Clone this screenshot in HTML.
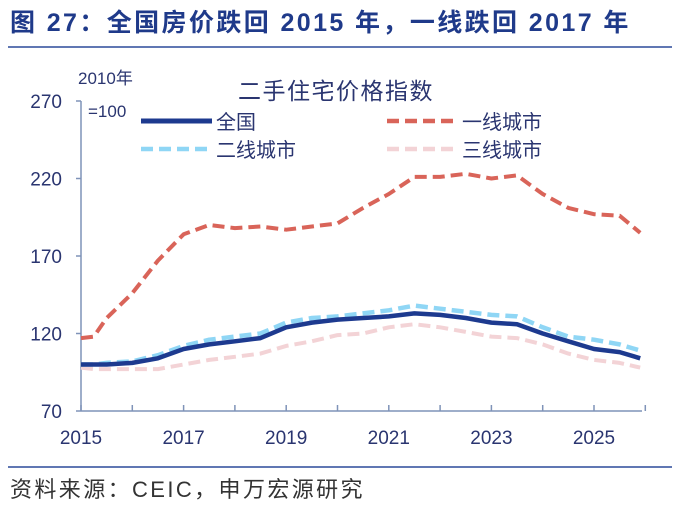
<!DOCTYPE html>
<html><head><meta charset="utf-8"><style>
body{margin:0;width:681px;height:509px;background:#fff;overflow:hidden}
svg text{font-family:"Liberation Sans","Noto Sans CJK SC",sans-serif}
</style></head><body>
<svg id="c" width="681" height="509">
<text x="10" y="31" font-size="25" font-weight="bold" fill="#1f3a8a" letter-spacing="2.4">图 27：全国房价跌回 2015 年，一线跌回 2017 年</text>
<line x1="8" y1="47" x2="672" y2="47" stroke="#2b4a9a" stroke-width="1.5"/>
<text x="336" y="99" font-size="23" fill="#2a3570" text-anchor="middle" letter-spacing="1.5">二手住宅价格指数</text>
<text x="78" y="84" font-size="17" fill="#2a3570">2010年</text>
<text x="88" y="117" font-size="17" fill="#2a3570">=100</text>
<line x1="8" y1="467" x2="672" y2="467" stroke="#2b4a9a" stroke-width="1.5"/>
<text x="10" y="497" font-size="22" fill="#333" letter-spacing="2.4">资料来源：CEIC，申万宏源研究</text>
<g id="plot"></g>
</svg>
<script>
const dates=[2015,2015.25,2015.5,2016,2016.5,2017,2017.5,2018,2018.5,2019,2019.5,2020,2020.5,2021,2021.5,2022,2022.5,2023,2023.5,2024,2024.5,2025,2025.5,2025.9];
const tier1=[117,118,130,146,167,184,190,188,189,187,189,191,201,210,221,221,223,220,222,210,201,197,196,185];
const national=[100,100,100,101,104,110,113,115,117,124,127,129,130,131,133,132,130,127,126,120,115,110,108,104];
const tier2=[100,100,101,102,106,112,116,118,120,127,130,131,133,135,138,136,134,132,131,124,118,116,113,109];
const tier3=[98,97,97,97,97,100,103,105,107,112,115,119,120,124,126,124,121,118,117,113,107,103,101,98];
const yTicks=[70,120,170,220,270];
const xTicks=[2015,2017,2019,2021,2023,2025];
const NS="http://www.w3.org/2000/svg";
const g=document.getElementById('plot');
const X=v=>81+(v-2015)*51.3;
const Y=v=>411-(v-70)*1.55;
function mk(t,a){const e=document.createElementNS(NS,t);for(const k in a)e.setAttribute(k,a[k]);g.appendChild(e);return e;}
let e;
e=mk('line',{x1:81,y1:Y(270),x2:81,y2:411,stroke:'#7f93b8','stroke-width':1.5});


e=mk('line',{x1:81,y1:411,x2:642,y2:411,stroke:'#7f93b8','stroke-width':1.5});


yTicks.forEach(v=>{
 mk('line',{x1:76,y1:Y(v),x2:81,y2:Y(v),stroke:'#7f93b8','stroke-width':1.5});
 e=mk('text',{x:62,y:Y(v)+7,'font-size':19,fill:'#2a3570','text-anchor':'end'});e.textContent=v;
 
 
});
for(let yr=2015;yr<=2026;yr++){mk('line',{x1:X(yr),y1:411,x2:X(yr),y2:405,stroke:'#7f93b8','stroke-width':1.5});}
xTicks.forEach(v=>{
 e=mk('text',{x:X(v),y:444,'font-size':19,fill:'#2a3570','text-anchor':'middle'});e.textContent=v;
 
 
});
function line(vals,color,w,dash,name){
 const d=vals.map((v,i)=>(i?'L':'M')+X(dates[i]).toFixed(1)+' '+Y(v).toFixed(1)).join('');
 const p=mk('path',{d:d,fill:'none',stroke:color,'stroke-width':w,'stroke-dasharray':dash,'stroke-linejoin':'round'});
 
 
}
line(tier3,'#f3d3d6',4,'12 6','series-tier3');
line(tier2,'#8fd6f5',4.5,'12 6','series-tier2');
line(tier1,'#d96459',4,'12 6','series-tier1');
line(national,'#1d3a8f',4.5,'','series-national');
function leg(x,y,color,dash,label,name,w){
 mk('line',{x1:x,y1:y,x2:x+71,y2:y,stroke:color,'stroke-width':w||4.5,'stroke-dasharray':dash});
 const t=mk('text',{x:x+75,y:y+8,'font-size':20,fill:'#2a3570'});t.textContent=label;
 
 
}
leg(141,121,'#1d3a8f','','全国','legend-national',5);
leg(387,121,'#d96459','12 6','一线城市','legend-tier1');
leg(141,149,'#8fd6f5','12 6','二线城市','legend-tier2');
leg(387,149,'#f3d3d6','12 6','三线城市','legend-tier3');
</script>
</body></html>
